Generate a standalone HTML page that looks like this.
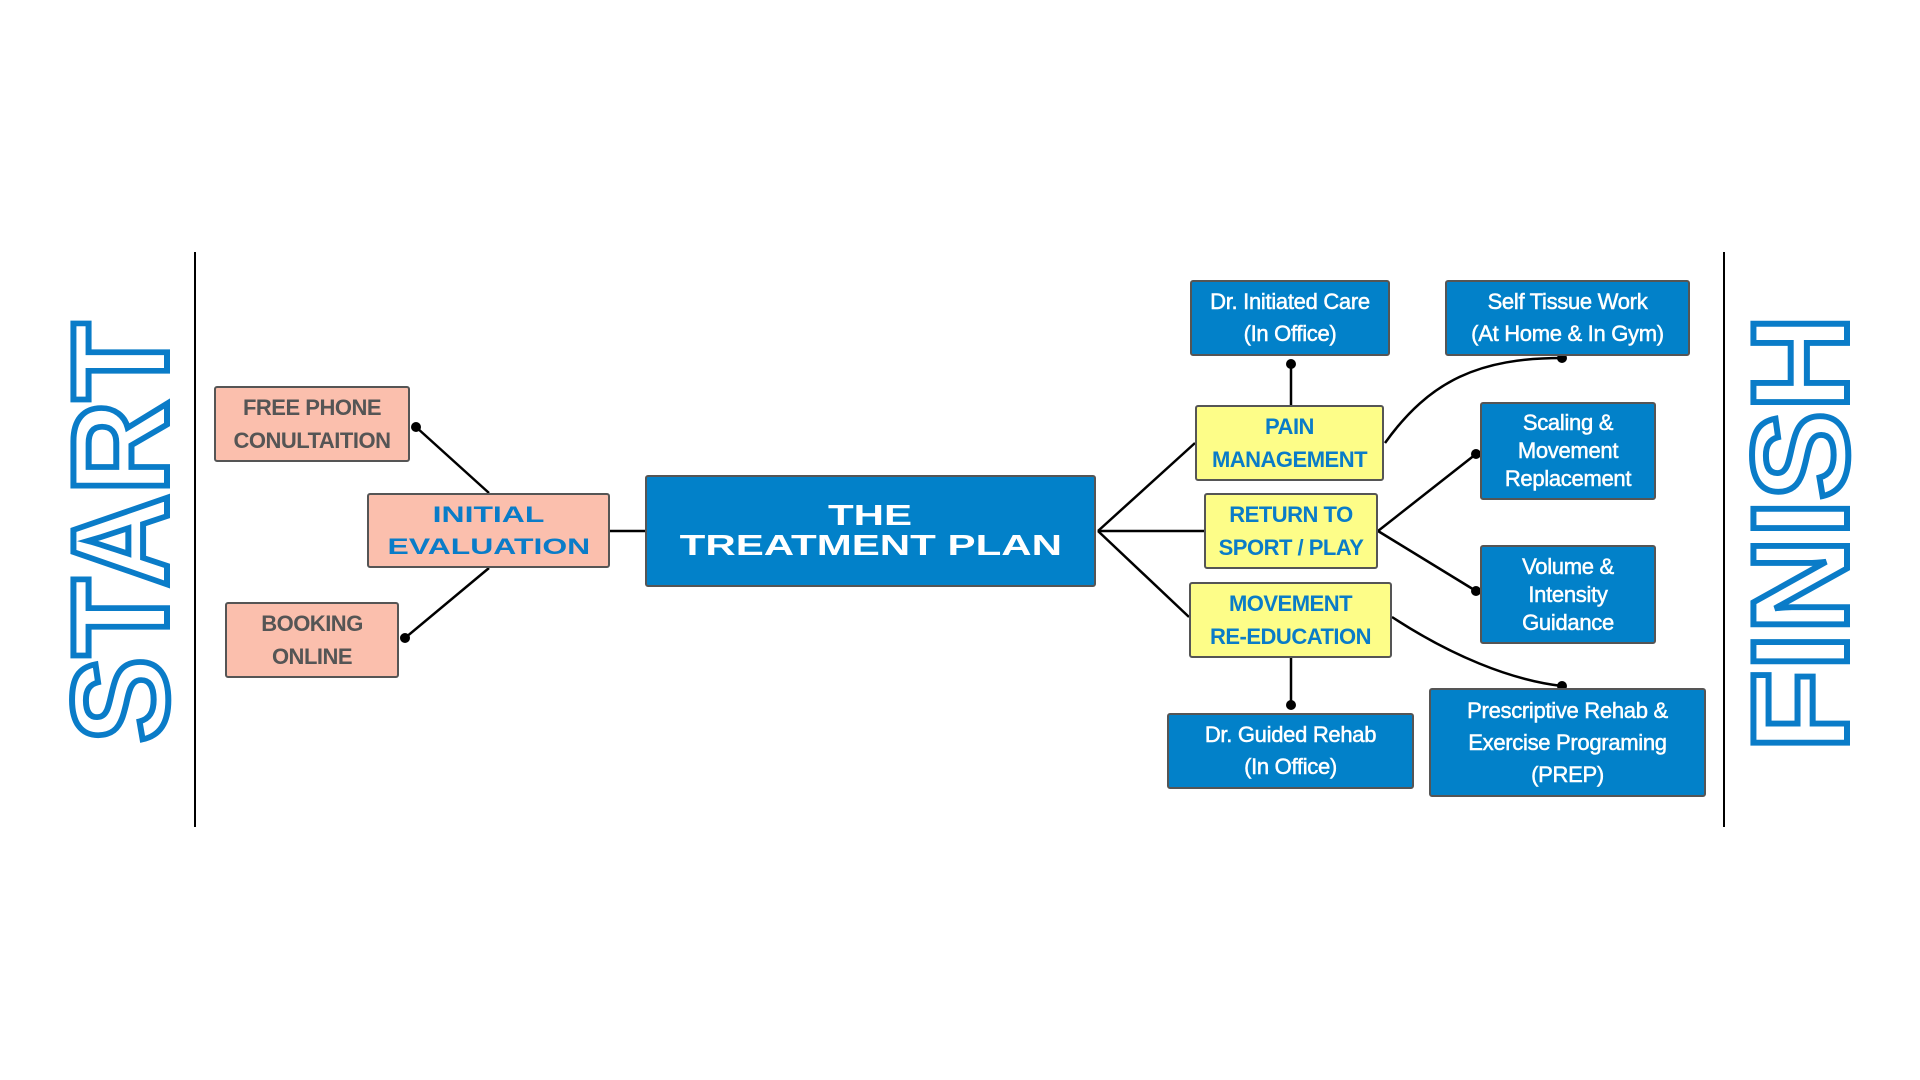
<!DOCTYPE html>
<html><head><meta charset="utf-8"><style>
body{margin:0;width:1920px;height:1080px;background:#fff;position:relative;overflow:hidden;font-family:"Liberation Sans",sans-serif}
.b{position:absolute;box-sizing:border-box;border:2.5px solid #555;border-radius:3px;display:flex;align-items:center;justify-content:center;text-align:center;font-weight:bold}
.s{background:#fbbfad;color:#555;font-size:22px;line-height:33px;letter-spacing:-0.5px}
.y{background:#fdfd88;color:#0a7cc8;font-size:22px;line-height:33px;letter-spacing:-0.5px}
.bl{background:#0281c9;color:#fff;font-weight:normal;font-size:22px;line-height:28px;letter-spacing:-0.3px;-webkit-text-stroke:0.5px #fff}
.w{display:inline-block;transform:scaleX(1.45);font-weight:900}
.vt{position:absolute;font-weight:900;color:transparent;-webkit-text-stroke:6px #0a7cc8;font-size:136px;line-height:1;white-space:nowrap;transform-origin:center;}
</style></head><body>
<svg width="1920" height="1080" style="position:absolute;left:0;top:0" fill="none" stroke="#000" stroke-width="2.5">
<line x1="195" y1="252" x2="195" y2="827" stroke-width="2"/>
<line x1="1724" y1="252" x2="1724" y2="827" stroke-width="2"/>
<line x1="416" y1="427" x2="489" y2="493"/>
<line x1="405" y1="638" x2="489" y2="568"/>
<line x1="610" y1="531" x2="645" y2="531"/>
<line x1="1098" y1="531" x2="1195" y2="443"/>
<line x1="1098" y1="531" x2="1204" y2="531"/>
<line x1="1098" y1="531" x2="1189" y2="617"/>
<line x1="1291" y1="364" x2="1291" y2="405"/>
<path d="M1385 443 C1430 380 1480 358 1562 358"/>
<line x1="1378" y1="531" x2="1476" y2="454"/>
<line x1="1378" y1="531" x2="1476" y2="591"/>
<path d="M1392 617 C1450 655 1510 680 1562 686"/>
<line x1="1291" y1="658" x2="1291" y2="705"/>
<g fill="#000" stroke="none">
<circle cx="416" cy="427" r="5"/><circle cx="405" cy="638" r="5"/>
<circle cx="1291" cy="364" r="5"/><circle cx="1562" cy="358" r="5"/>
<circle cx="1476" cy="454" r="5"/><circle cx="1476" cy="591" r="5"/>
<circle cx="1562" cy="686" r="5"/><circle cx="1291" cy="705" r="5"/>
</g></svg>
<div class="vt" style="left:-98px;top:468px;width:436px;text-align:center;transform:rotate(-90deg) scaleX(0.95)">START</div>
<div class="vt" style="left:1582px;top:470px;width:436px;text-align:center;transform:rotate(-90deg) scaleX(0.98)">FINISH</div>
<div class="b s" style="left:214px;top:386px;width:196px;height:76px">FREE PHONE<br>CONULTAITION</div>
<div class="b s" style="left:225px;top:602px;width:174px;height:76px">BOOKING<br>ONLINE</div>
<div class="b s" style="left:367px;top:493px;width:243px;height:75px;color:#0a7cc8;font-size:22px;line-height:32px;letter-spacing:0"><div><span class="w">INITIAL</span><br><span class="w">EVALUATION</span></div></div>
<div class="b" style="left:645px;top:475px;width:451px;height:112px;background:#0281c9;color:#fff;font-size:29px;line-height:30px"><div><span class="w">THE</span><br><span class="w">TREATMENT PLAN</span></div></div>
<div class="b bl" style="left:1190px;top:280px;width:200px;height:76px;line-height:32px">Dr. Initiated Care<br>(In Office)</div>
<div class="b bl" style="left:1445px;top:280px;width:245px;height:76px;line-height:32px">Self Tissue Work<br>(At Home &amp; In Gym)</div>
<div class="b y" style="left:1195px;top:405px;width:189px;height:76px">PAIN<br>MANAGEMENT</div>
<div class="b y" style="left:1204px;top:493px;width:174px;height:76px">RETURN TO<br>SPORT / PLAY</div>
<div class="b y" style="left:1189px;top:582px;width:203px;height:76px">MOVEMENT<br>RE-EDUCATION</div>
<div class="b bl" style="left:1480px;top:402px;width:176px;height:98px">Scaling &amp;<br>Movement<br>Replacement</div>
<div class="b bl" style="left:1480px;top:545px;width:176px;height:99px">Volume &amp;<br>Intensity<br>Guidance</div>
<div class="b bl" style="left:1167px;top:713px;width:247px;height:76px;line-height:32px">Dr. Guided Rehab<br>(In Office)</div>
<div class="b bl" style="left:1429px;top:688px;width:277px;height:109px;line-height:32px">Prescriptive Rehab &amp;<br>Exercise Programing<br>(PREP)</div>
</body></html>
